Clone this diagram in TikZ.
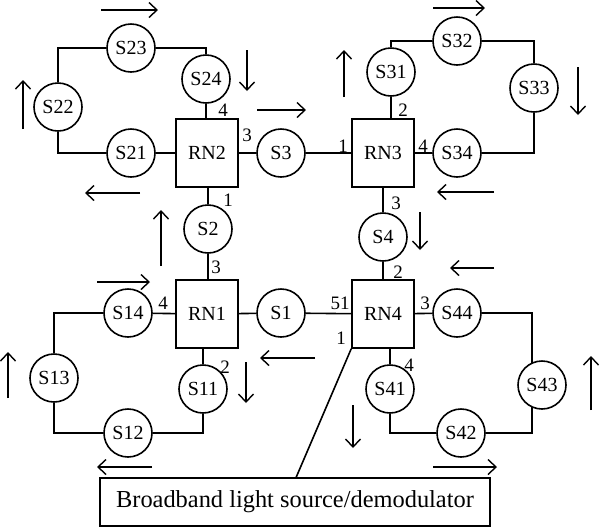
\documentclass[tikz,border=0pt]{standalone}
\usepackage{fontspec}
\setmainfont{Liberation Serif}
\usetikzlibrary{arrows.meta,backgrounds}
\begin{document}
\begin{tikzpicture}[x=0.5pt,y=-0.5pt,line width=0.8pt,
  stn/.style={draw,circle,fill=white,minimum size=24pt,inner sep=0pt,font=\fontsize{10}{12}\selectfont},
  rn/.style={draw,rectangle,fill=white,minimum width=31pt,minimum height=34pt,inner sep=0pt,font=\fontsize{10}{12}\selectfont},
  lab/.style={inner sep=0pt,font=\fontsize{9.5}{11}\selectfont},
  flow/.style={-{Straight Barb[length=4pt,width=7.5pt]},line width=0.7pt},
  conn/.style={line width=0.8pt}]
\useasboundingbox (0,0) rectangle (600,527);
% remote nodes
\node[rn] (RN2) at (207,153) {RN2};
\node[rn] (RN3) at (383,153) {RN3};
\node[rn] (RN1) at (207,314) {RN1};
\node[rn] (RN4) at (383,314) {RN4};
% stations
\node[stn] (S21) at (131,153) {S21};
\node[stn] (S22) at (58,107) {S22};
\node[stn] (S23) at (131,48) {S23};
\node[stn] (S24) at (206,79) {S24};
\node[stn] (S3) at (281,153) {S3};
\node[stn] (S2) at (208,229) {S2};
\node[stn] (S31) at (391,72) {S31};
\node[stn] (S32) at (457,41) {S32};
\node[stn] (S33) at (534,88) {S33};
\node[stn] (S34) at (457,153) {S34};
\node[stn] (S4) at (383,237) {S4};
\node[stn] (S14) at (128,313) {S14};
\node[stn] (S13) at (54,378) {S13};
\node[stn] (S12) at (128,433) {S12};
\node[stn] (S11) at (203,389) {S11};
\node[stn] (S1) at (281,313) {S1};
\node[stn] (S44) at (457,313) {S44};
\node[stn] (S43) at (542,385) {S43};
\node[stn] (S42) at (461,433) {S42};
\node[stn] (S41) at (390,389) {S41};
\node[draw,rectangle,minimum width=195pt,minimum height=24pt,inner sep=0pt,font=\fontsize{12.2}{14}\selectfont] (src) at (295,502) {Broadband light source/demodulator};
\coordinate (c1) at (532,313);
\coordinate (c2) at (532,433);
% connectors
\begin{scope}[on background layer]
\draw[conn] (S21) -- (RN2);
\draw[conn] (S21) -| (S22);
\draw[conn] (S22) |- (S23);
\draw[conn] (S23) -| (S24);
\draw[conn] (S24) -- (S24 |- RN2.north);
\draw[conn] (RN2) -- (S3);
\draw[conn] (S3) -- (RN3);
\draw[conn] (S2) -- (S2 |- RN2.south);
\draw[conn] (S2) -- (S2 |- RN1.north);
\draw[conn] (S31) -- (S31 |- RN3.north);
\draw[conn] (S31) |- (S32);
\draw[conn] (S32) -| (S33);
\draw[conn] (S33) |- (S34);
\draw[conn] (S34) -- (RN3);
\draw[conn] (RN3) -- (S4);
\draw[conn] (S4) -- (RN4);
\draw[conn] (S14) -- (RN1);
\draw[conn] (S14) -| (S13);
\draw[conn] (S13) |- (S12);
\draw[conn] (S12) -| (S11);
\draw[conn] (S11) -- (S11 |- RN1.south);
\draw[conn] (RN1) -- (S1);
\draw[conn] (S1) -- (RN4);
\draw[conn] (RN4) -- (S44);
\draw[conn] (S44) -- (c1) -- (c2) -- (S42);
\draw[conn] (S42) -| (S41);
\draw[conn] (S41) -- (S41 |- RN4.south);
\draw[conn] (RN4.south west) -- ([xshift=98.5pt]src.north west);
\end{scope}
% port labels
\node[lab] (l24) at (223,110) {4};
\node[lab] (l23) at (247,135) {3};
\node[lab] (l21) at (228,200) {1};
\node[lab] (l32) at (403,110) {2};
\node[lab] (l31) at (343,146) {1};
\node[lab] (l34) at (423,146) {4};
\node[lab] (l33) at (396,203) {3};
\node[lab] (l13) at (216,267) {3};
\node[lab] (l14) at (163,303) {4};
\node[lab] (l12) at (225,367) {2};
\node[lab] (l42) at (398,272) {2};
\node[lab] (l451) at (340,303) {51};
\node[lab] (l43) at (425,303) {3};
\node[lab] (l41) at (341,338) {1};
\node[lab] (l44) at (409,365) {4};
% direction arrows
\draw[flow] (101,10) -- (158,10);
\draw[flow] (23,129) -- (23,80);
\draw[flow] (247,50) -- (247,91);
\draw[flow] (257,110) -- (306,110);
\draw[flow] (140,193) -- (85,193);
\draw[flow] (161,266) -- (161,210);
\draw[flow] (344,97) -- (344,50);
\draw[flow] (433,8) -- (485,8);
\draw[flow] (578,67) -- (578,115);
\draw[flow] (494,192) -- (437,192);
\draw[flow] (420,212) -- (420,250);
\draw[flow] (97,282) -- (150,282);
\draw[flow] (8,398) -- (8,352);
\draw[flow] (246,362) -- (246,403);
\draw[flow] (315,358) -- (260,358);
\draw[flow] (152,467) -- (97,467);
\draw[flow] (494,268) -- (450,268);
\draw[flow] (591,410) -- (591,356);
\draw[flow] (353,405) -- (353,448);
\draw[flow] (433,467) -- (497,467);
\end{tikzpicture}
\end{document}
